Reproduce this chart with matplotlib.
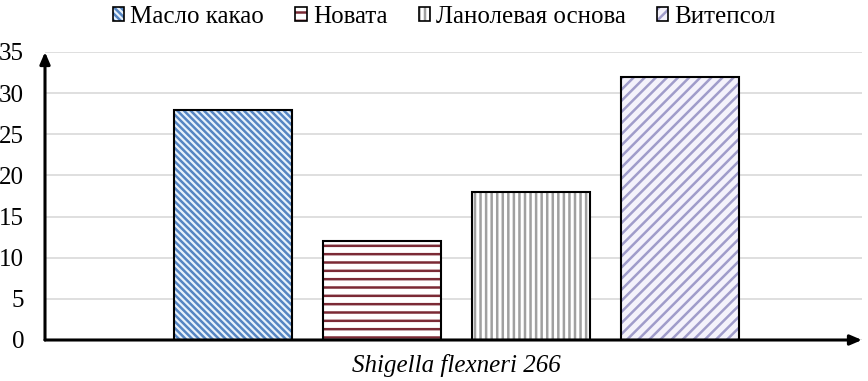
import matplotlib
matplotlib.use("Agg")
import matplotlib.pyplot as plt
from matplotlib.patches import Patch

plt.rcParams["font.family"] = ["Liberation Serif", "DejaVu Serif"]
plt.rcParams["hatch.linewidth"] = 1.8

category = "Shigella flexneri 266"
series = ["Масло какао", "Новата", "Ланолевая основа", "Витепсол"]
values = [28, 12, 18, 32]
yticks = [0, 5, 10, 15, 20, 25, 30, 35]

# pattern styles per series: (background, line colour, hatch)
faces = ["#e9f2fb", "white", "white", "#f4f2fb"]
hatch_colors = ["#5585c2", "#7b2a35", "#a0a0a0", "#a09cca"]
hatches = ["\\" * 5, "--", "|||", "///"]

fig = plt.figure(figsize=(8.68, 3.81), dpi=100)
ax = fig.add_axes([45 / 868, 1 - 340 / 381, (862 - 45) / 868, (340 - 52) / 381])

width = 0.79
x = list(range(len(series)))
for i, v in enumerate(values):
    ax.bar(x[i], v, width, facecolor=faces[i], edgecolor=hatch_colors[i],
           hatch=hatches[i], linewidth=0, zorder=2)
    ax.bar(x[i], v, width, fill=False, edgecolor="black", linewidth=1.5, zorder=3)

ax.set_xlim(-1.26, 4.22)
ax.set_ylim(0, 35)
ax.set_yticks(yticks)
ax.set_yticklabels([str(t) for t in yticks], fontsize=18)
ax.tick_params(axis="y", length=0, pad=15)
ax.set_xticks([1.5])
ax.set_xticklabels([category], fontsize=18, fontstyle="italic")
ax.tick_params(axis="x", length=0, pad=10)
ax.grid(axis="y", color="#d9d9d9", linewidth=1.2, zorder=0)
ax.set_axisbelow(True)
for s in ax.spines.values():
    s.set_visible(False)

# axes drawn as arrows
arrow = dict(arrowstyle="-|>,head_length=0.7,head_width=0.3", color="black",
             linewidth=2.2, shrinkA=0, shrinkB=0)
ax.annotate("", xy=(0, 1.0), xytext=(0, 0), xycoords="axes fraction",
            arrowprops=arrow, annotation_clip=False, zorder=5)
ax.annotate("", xy=(1.0, 0), xytext=(0, 0), xycoords="axes fraction",
            arrowprops=arrow, annotation_clip=False, zorder=5)

handles = [(Patch(facecolor=faces[i], edgecolor=hatch_colors[i], hatch=hatches[i], linewidth=0),
            Patch(fill=False, edgecolor="black", linewidth=1.2))
           for i in range(len(series))]
fig.legend(handles=handles, labels=series, loc="upper center", bbox_to_anchor=(0.512, 1.03),
           ncol=4, frameon=False, fontsize=18, handlelength=0.45, handleheight=0.45,
           handletextpad=0.25, columnspacing=1.25, borderpad=0.2)

plt.savefig("out.png", dpi=100)
plt.close()
